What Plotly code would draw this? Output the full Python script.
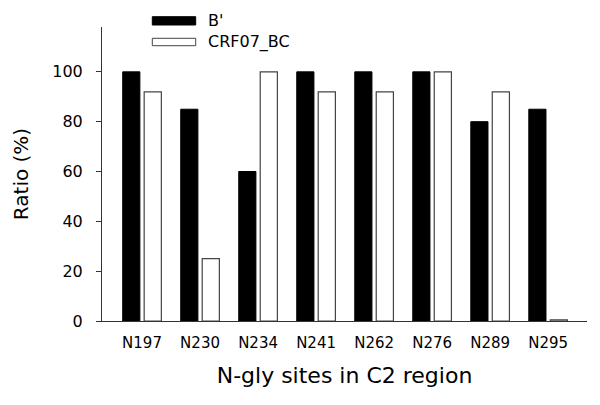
import plotly.graph_objects as go

sites = ["N197", "N230", "N234", "N241", "N262", "N276", "N289", "N295"]
b_prime = [100, 85, 60, 100, 100, 100, 80, 85]
crf07_bc = [92, 25, 100, 92, 92, 100, 92, 0.5]
y_ticks = [0, 20, 40, 60, 80, 100]

FONT = "DejaVu Sans"

fig = go.Figure()
fig.add_trace(go.Bar(x=sites, y=b_prime, name="B'",
                     marker=dict(color="black", line=dict(color="black", width=1))))
fig.add_trace(go.Bar(x=sites, y=crf07_bc, name="CRF07_BC",
                     marker=dict(color="white", line=dict(color="#444444", width=1.2))))

# custom legend (wide swatches like the original)
L, R, T, B = 102, 13, 27, 84
W, H = 600 - L - R, 405 - T - B
def px(x):
    return (x - L) / W
def py(y):
    return (405 - B - y) / H

legend_items = [("B'", "black", "black", 16.7, 25.0), ("CRF07_BC", "white", "#444444", 38.3, 45.7)]
shapes = []
annotations = []
for label, fill, line, y0, y1 in legend_items:
    shapes.append(dict(type="rect", xref="paper", yref="paper",
                       x0=px(152.3), x1=px(195.7), y0=py(y1), y1=py(y0),
                       fillcolor=fill, line=dict(color=line, width=1)))
    annotations.append(dict(xref="paper", yref="paper", x=px(206), y=py((y0 + y1) / 2),
                            text=label, showarrow=False, xanchor="left", yanchor="middle",
                            font=dict(family=FONT, size=16, color="black")))

fig.update_layout(
    width=600, height=405,
    margin=dict(l=L, r=R, t=T, b=B, autoexpand=False),
    paper_bgcolor="white", plot_bgcolor="white",
    barmode="group", bargap=0.26, bargroupgap=0.2,
    showlegend=False,
    shapes=shapes, annotations=annotations,
    font=dict(family=FONT, color="black"),
)
fig.update_xaxes(
    range=[-0.69, 7.67], showline=True, linecolor="#333333", linewidth=1,
    ticks="", showgrid=False, zeroline=False, automargin=False,
    tickfont=dict(family=FONT, size=15, color="black"), ticklabelstandoff=8,
    title=dict(text="N-gly sites in C2 region", font=dict(family=FONT, size=22, color="black"), standoff=16),
)
fig.update_yaxes(
    range=[0, 118], showline=True, linecolor="#333333", linewidth=1,
    ticks="outside", ticklen=5, tickcolor="#333333", tickvals=y_ticks,
    showgrid=False, zeroline=False, automargin=False,
    tickfont=dict(family=FONT, size=16, color="black"), ticklabelstandoff=10,
    title=dict(text="Ratio (%)", font=dict(family=FONT, size=20, color="black"), standoff=18),
)

fig.write_html("out.html", config={"displayModeBar": False},
               post_script="document.body.style.margin='0';document.body.style.padding='0';")
